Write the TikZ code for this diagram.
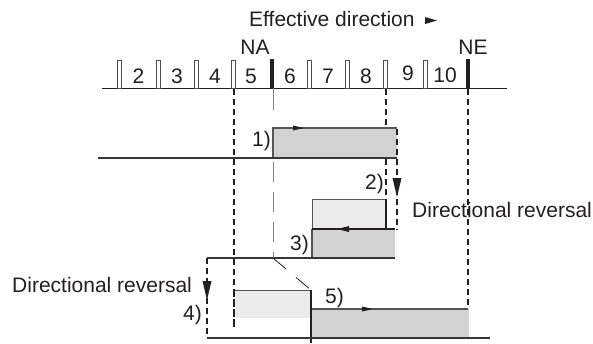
\documentclass[tikz,border=0pt]{standalone}
\usepackage{fontspec}
\setmainfont{Liberation Sans}
\definecolor{ink}{HTML}{231F20}
\definecolor{darkfill}{HTML}{D2D2D2}
\definecolor{lightfill}{HTML}{EBEBEB}
\definecolor{edge}{HTML}{555555}
\definecolor{thin}{HTML}{808080}
\begin{document}
\begin{tikzpicture}[x=1pt,y=-1pt,
  lbl/.style={inner sep=0pt, font=\fontsize{21}{25}\selectfont, text=ink},
  axis/.style={draw=ink, line width=1pt},
  hollowbar/.style={draw=ink!80, line width=0.8pt, fill=white},
  solidbar/.style={fill=ink},
  guide/.style={draw=ink, line width=1.3pt, dash pattern=on 6pt off 4pt},
  longdash/.style={draw=thin, line width=1pt, dash pattern=on 20pt off 10pt},
  rim/.style={draw=edge, line width=1.2pt},
  head/.style={fill=ink}]
\useasboundingbox (0,0) rectangle (593,343);

% heading
\node[lbl, anchor=base west] (eff) at (249,26) {Effective direction};
\fill[head] (425,17) -- (437,20.5) -- (425,24) -- cycle;
\node[lbl, anchor=base] (na) at (255,54) {NA};
\node[lbl, anchor=base] (ne) at (473,54) {NE};

% scale with section markers
\draw[axis] (102,88) -- (507,88);
\foreach \x in {119,158,196,233,309,347,385,425}
  \draw[hollowbar] (\x-2,60) rectangle (\x+2,88);
\fill[solidbar] (269.5,59) rectangle (273.5,88);
\fill[solidbar] (466,59) rectangle (470,88);
\foreach \n/\x/\b in {2/138.5/83,3/177/83,4/215/83,5/251/83,6/290/83,7/328/83,8/366/83,9/408/80,10/445/82}
  \node[lbl, anchor=base] (n\n) at (\x,\b) {\n};

% long dashed guides
\draw[guide] (234,89) -- (234,328);
\draw[guide] (386,89) -- (386,199);
\draw[guide] (468,89) -- (468,338);
\draw[draw=thin, line width=1pt] (273,88) -- (273,110);

% phase 1
\fill[darkfill] (273,128) rectangle (397,158);
\draw[rim] (273,158) -- (273,128) -- (397,128);
\fill[head] (293,125.5) -- (304,128) -- (293,130.5) -- cycle;
\draw[draw=ink!90, line width=1.1pt] (98,158) -- (397,158);
\node[lbl, anchor=base west] (p1) at (252,146) {1)};

% phase 2: reversal
\draw[guide] (397,129) -- (397,230);
\fill[head] (392.5,178) -- (401.5,178) -- (397,197) -- cycle;
\node[lbl, anchor=base west] (p2) at (365,189) {2)};
\node[lbl, anchor=base west] (rev1) at (412,217) {Directional reversal};

% phase 3
\fill[lightfill] (312,199) rectangle (386,229);
\draw[draw=edge, line width=0.9pt] (312,229) -- (312,199) -- (386,199);
\draw[draw=ink, line width=1.2pt] (386,199) -- (386,229);
\fill[darkfill] (312,229) rectangle (395,258);
\draw[rim] (312,258) -- (312,229);
\draw[draw=ink, line width=1.2pt] (312,229) -- (395,229);
\fill[head] (337,229) -- (349,226) -- (349,232) -- cycle;
\draw[draw=ink!90, line width=1.1pt] (207,258) -- (395,258);
\node[lbl, anchor=base west] (p3) at (290,250) {3)};

\draw[longdash] (273,162) -- (273,258);
\draw[draw=ink, line width=0.8pt, dash pattern=on 17pt off 13pt] (273,258) -- (311,290);

% phase 4: reversal
\draw[guide] (207,258) -- (207,338);
\fill[head] (202.5,281) -- (211.5,281) -- (207,300) -- cycle;
\node[lbl, anchor=base west] (rev2) at (12,292) {Directional reversal};
\node[lbl, anchor=base west] (p4) at (183,320) {4)};

\fill[lightfill] (235,290) rectangle (311,318);
\draw[draw=edge, line width=0.9pt] (235,290) -- (311,290);

% phase 5
\fill[darkfill] (311,309) rectangle (469,338);
\draw[rim] (311,309) -- (468,309);
\fill[head] (362,306.5) -- (373,309) -- (362,311.5) -- cycle;
\draw[draw=ink, line width=1.2pt] (311,290) -- (311,343);
\node[lbl, anchor=base west] (p5) at (325,303) {5)};
\draw[draw=ink!90, line width=1.1pt] (207,338) -- (490,338);
\draw[guide] (234,291) -- (234,328);
\end{tikzpicture}
\end{document}
